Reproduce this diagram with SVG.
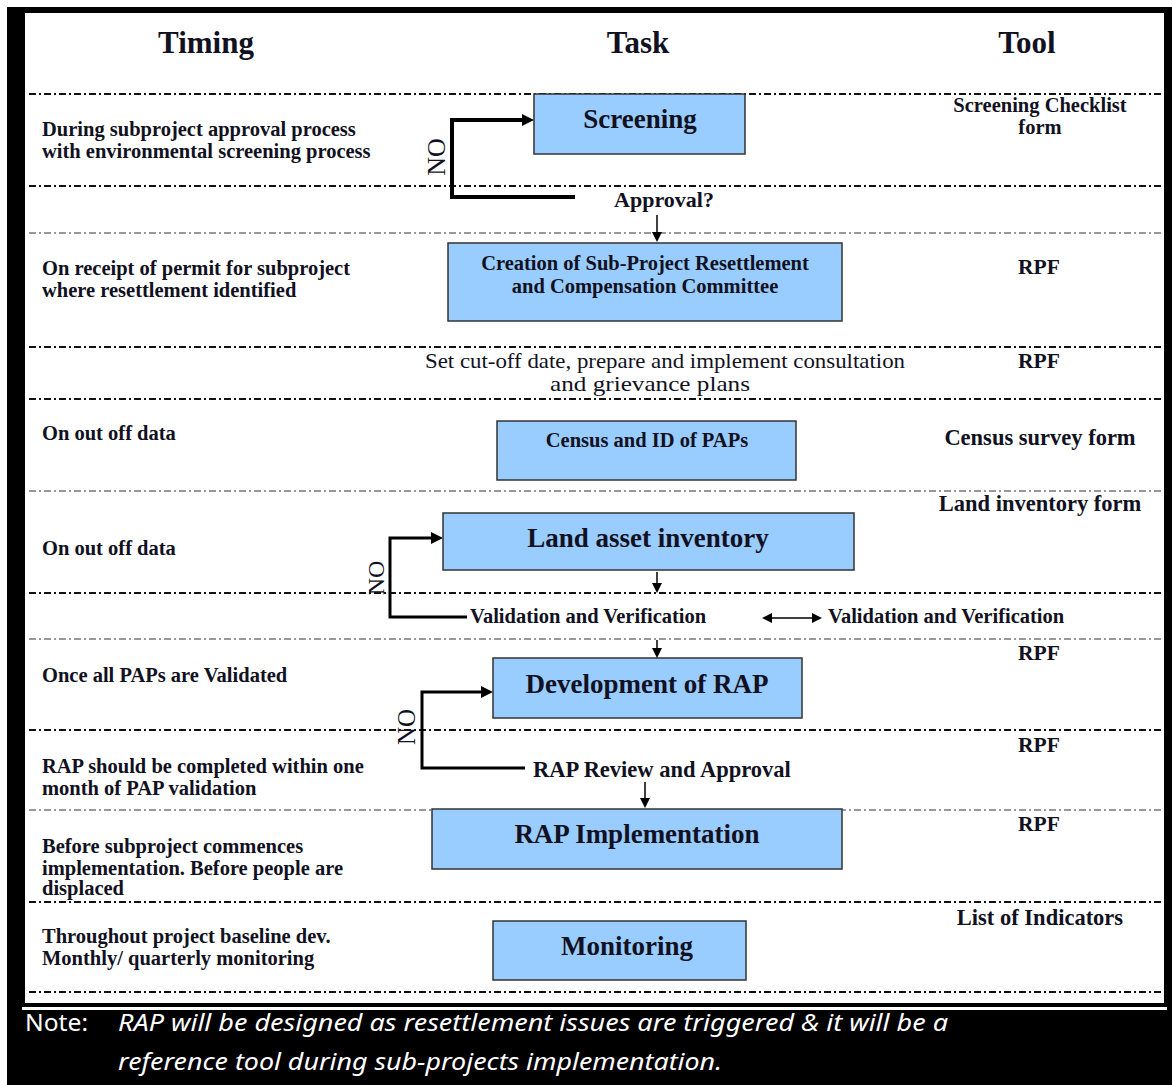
<svg xmlns="http://www.w3.org/2000/svg" width="1172" height="1085" viewBox="0 0 1172 1085">
<style>
.t{font-family:"Liberation Serif","Times New Roman",serif;font-weight:bold;fill:#111122}
.r{font-family:"Liberation Serif","Times New Roman",serif;fill:#111122}
.hd{font-size:31px;text-anchor:middle}
.tm{font-size:20.5px}
.tl{font-size:21.5px;text-anchor:middle}
.tl2{font-size:22.5px;text-anchor:middle}
.big{font-size:27px;text-anchor:middle}
.mid{font-size:20.5px;text-anchor:middle}
.vv{font-size:20.5px}
.box{fill:#99ccff;stroke:#333333;stroke-width:1.5}
.dk{stroke:#111;stroke-width:2;stroke-dasharray:7 3 2 3;fill:none}
.lt{stroke:#777;stroke-width:1.5;stroke-dasharray:7 3 2 3;fill:none}
.loop4{stroke:#000;stroke-width:4;fill:none}
.loop3{stroke:#000;stroke-width:3;fill:none}
.thin{stroke:#000;stroke-width:1.5;fill:none}
.note{font-family:"Noto Sans","Open Sans",sans-serif;font-size:23px;fill:#ffffff}
</style>
<defs>
<marker id="ahT" viewBox="0 0 12 12" refX="0" refY="6" markerWidth="12" markerHeight="12" markerUnits="userSpaceOnUse" orient="auto"><path d="M0,0 L12,6 L0,12 z" fill="#000"/></marker>
<marker id="ah" viewBox="0 0 10 10" refX="0" refY="5" markerWidth="10" markerHeight="10" markerUnits="userSpaceOnUse" orient="auto-start-reverse"><path d="M0,0 L10,5 L0,10 z" fill="#000"/></marker>
</defs>
<rect x="0" y="0" width="1172" height="1085" fill="#ffffff"/>
<rect x="7" y="7" width="1165" height="1078" fill="#000000"/>
<rect x="25" y="13" width="1139" height="990" fill="#ffffff"/>
<rect x="22" y="1007" width="1145" height="3" fill="#ffffff"/>

<g id="separators">
<line class="dk" x1="29" y1="94" x2="1163" y2="94"/>
<line class="dk" x1="29" y1="186" x2="1163" y2="186"/>
<line class="lt" x1="29" y1="233" x2="1163" y2="233"/>
<line class="dk" x1="29" y1="347" x2="1163" y2="347"/>
<line class="dk" x1="29" y1="399" x2="1163" y2="399"/>
<line class="lt" x1="29" y1="491" x2="1163" y2="491"/>
<line class="dk" x1="29" y1="593" x2="1163" y2="593"/>
<line class="lt" x1="29" y1="639" x2="1163" y2="639"/>
<line class="dk" x1="29" y1="730" x2="1163" y2="730"/>
<line class="lt" x1="29" y1="810" x2="1163" y2="810"/>
<line class="dk" x1="29" y1="902" x2="1163" y2="902"/>
<line class="dk" x1="29" y1="992" x2="1163" y2="992"/>
</g>

<g id="headers">
<text class="t hd" x="206" y="53">Timing</text>
<text class="t hd" x="638" y="53">Task</text>
<text class="t hd" x="1027" y="53">Tool</text>
</g>

<g id="timing">
<text class="t tm" x="42" y="136">During subproject approval process</text>
<text class="t tm" x="42" y="158">with environmental screening process</text>
<text class="t tm" x="42" y="275">On receipt of permit for subproject</text>
<text class="t tm" x="42" y="297">where resettlement identified</text>
<text class="t tm" x="42" y="440">On out off data</text>
<text class="t tm" x="42" y="555">On out off data</text>
<text class="t tm" x="42" y="682">Once all PAPs are Validated</text>
<text class="t tm" x="42" y="773">RAP should be completed within one</text>
<text class="t tm" x="42" y="795">month of PAP validation</text>
<text class="t tm" x="42" y="853">Before subproject commences</text>
<text class="t tm" x="42" y="875">implementation. Before people are</text>
<text class="t tm" x="42" y="895">displaced</text>
<text class="t tm" x="42" y="943">Throughout project baseline dev.</text>
<text class="t tm" x="42" y="965">Monthly/ quarterly monitoring</text>
</g>

<g id="tools">
<text class="t mid" x="1040" y="112">Screening Checklist</text>
<text class="t mid" x="1040" y="134">form</text>
<text class="t tl" x="1039" y="274">RPF</text>
<text class="t tl" x="1039" y="368">RPF</text>
<text class="t tl2" x="1040" y="445">Census survey form</text>
<text class="t tl2" x="1040" y="511">Land inventory form</text>
<text class="t tl" x="1039" y="660">RPF</text>
<text class="t tl" x="1039" y="752">RPF</text>
<text class="t tl" x="1039" y="831">RPF</text>
<text class="t tl2" x="1040" y="925">List of Indicators</text>
</g>

<g id="screening">
<rect class="box" x="534" y="94" width="211" height="60"/>
<text class="t big" x="640" y="128">Screening</text>
</g>
<g id="approval">
<text class="t" style="font-size:22px;text-anchor:middle" x="664" y="207">Approval?</text>
</g>
<g id="committee">
<rect class="box" x="448" y="243" width="394" height="78"/>
<text class="t mid" x="645" y="270">Creation of Sub-Project Resettlement</text>
<text class="t mid" x="645" y="293">and Compensation Committee</text>
</g>
<g id="cutoff">
<text class="r" style="font-size:21px" x="425" y="368" textLength="480" lengthAdjust="spacingAndGlyphs">Set cut-off date, prepare and implement consultation</text>
<text class="r" style="font-size:22px" x="550" y="391" textLength="200" lengthAdjust="spacingAndGlyphs">and grievance plans</text>
</g>
<g id="census">
<rect class="box" x="497" y="421" width="299" height="59"/>
<text class="t mid" x="647" y="447">Census and ID of PAPs</text>
</g>
<g id="land">
<rect class="box" x="443" y="513" width="411" height="57"/>
<text class="t big" x="648" y="547">Land asset inventory</text>
</g>
<g id="validation">
<text class="t vv" x="470" y="623">Validation and Verification</text>
</g>
<g id="validation2">
<text class="t vv" x="828" y="623">Validation and Verification</text>
</g>
<g id="development">
<rect class="box" x="493" y="658" width="309" height="60"/>
<text class="t big" x="647" y="693">Development of RAP</text>
</g>
<g id="review">
<text class="t" style="font-size:22.5px" x="533" y="777">RAP Review and Approval</text>
</g>
<g id="implementation">
<rect class="box" x="432" y="809" width="410" height="60"/>
<text class="t big" x="637" y="843">RAP Implementation</text>
</g>
<g id="monitoring">
<rect class="box" x="493" y="921" width="253" height="59"/>
<text class="t big" x="627" y="955">Monitoring</text>
</g>

<g id="connectors">
<path class="loop4" d="M575,197 H452 V120 H522" marker-end="url(#ahT)"/>
<text class="r" style="font-size:26px;text-anchor:middle" transform="translate(445,157) rotate(-90)">NO</text>
<path class="thin" d="M657,215 V232" marker-end="url(#ah)"/>
<path class="thin" d="M657,572 V583" marker-end="url(#ah)"/>
<path class="loop3" d="M467,617 H390 V538 H431" marker-end="url(#ahT)"/>
<text class="r" style="font-size:24px;text-anchor:middle" transform="translate(384,578) rotate(-90)">NO</text>
<path class="thin" d="M772,618 H812" marker-start="url(#ah)" marker-end="url(#ah)"/>
<path class="thin" d="M657,640 V648" marker-end="url(#ah)"/>
<path class="loop3" d="M525,768 H422 V692 H481" marker-end="url(#ahT)"/>
<text class="r" style="font-size:25px;text-anchor:middle" transform="translate(415,727) rotate(-90)">NO</text>
<path class="thin" d="M645,782 V798" marker-end="url(#ah)"/>
</g>

<g id="note">
<text class="note" x="25" y="1031" textLength="63" lengthAdjust="spacingAndGlyphs">Note:</text>
<text class="note" x="118" y="1031" font-style="italic" textLength="830" lengthAdjust="spacingAndGlyphs">RAP will be designed as resettlement issues are triggered &amp; it will be a</text>
<text class="note" x="118" y="1070" font-style="italic" textLength="604" lengthAdjust="spacingAndGlyphs">reference tool during sub-projects implementation.</text>
</g>
</svg>
